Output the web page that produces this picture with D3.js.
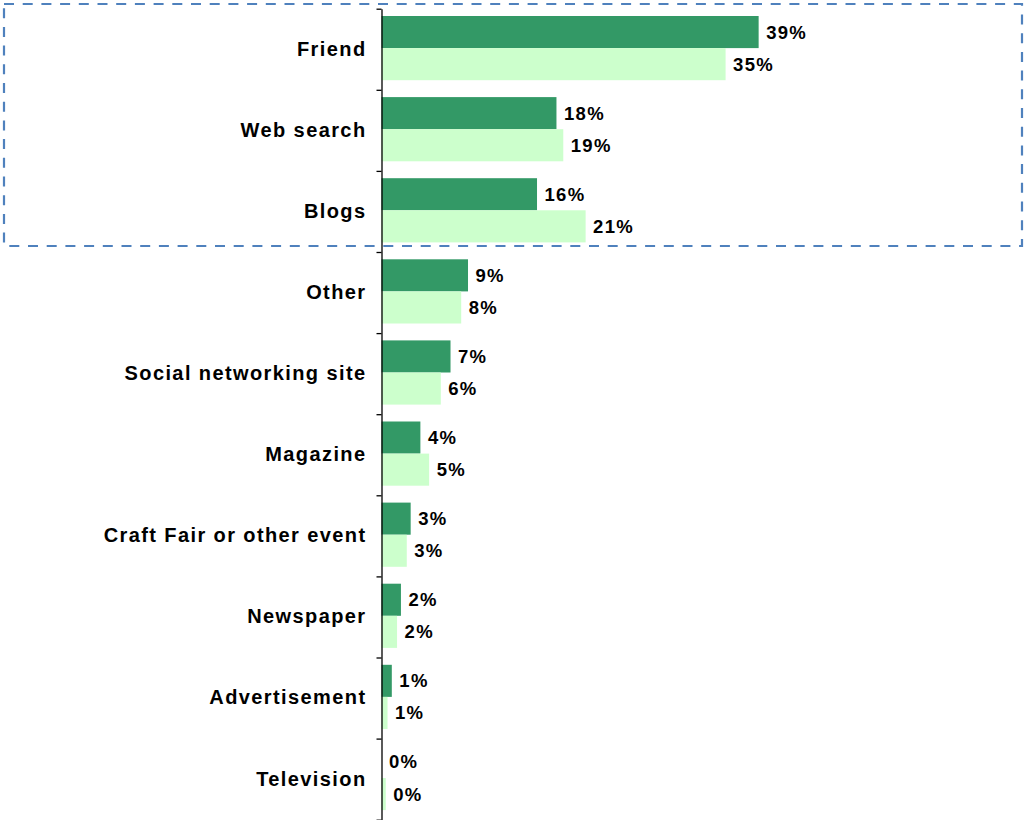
<!DOCTYPE html>
<html>
<head>
<meta charset="utf-8">
<script src="https://cdn.jsdelivr.net/npm/d3@7"></script>
<style>
  html, body { margin: 0; padding: 0; background: #fff; }
  svg { display: block; }
  text { font-family: "Liberation Sans", Arial, sans-serif; font-weight: bold; fill: #000; }
</style>
</head>
<body>
<svg id="chart" width="1024" height="820"></svg>
<script>
// Where people first heard about the shop — share of responses, two survey groups
const categories = [
  "Friend", "Web search", "Blogs", "Other", "Social networking site",
  "Magazine", "Craft Fair or other event", "Newspaper", "Advertisement", "Television"
];
const seriesNames = ["groupA", "groupB"];
const groupA = [0.388, 0.180, 0.160, 0.089, 0.071, 0.040, 0.030, 0.020, 0.0106, 0];
const groupB = [0.354, 0.187, 0.210, 0.082, 0.061, 0.049, 0.026, 0.016, 0.0062, 0.0044];
const colors = { groupA: "#339966", groupB: "#CCFFCC" };
// the first three categories are outlined together
const highlighted = ["Friend", "Web search", "Blogs"];

const rows = categories.map((c, i) => ({ category: c, groupA: groupA[i], groupB: groupB[i] }));

const svg = d3.select("#chart");
const axisX = 381.5;
const plotTop = 8.7, plotBottom = 819.7;

const x = d3.scaleLinear().domain([0, 0.45]).range([axisX, axisX + 0.45 * 972]);
const y = d3.scaleBand().domain(categories).range([plotTop, plotBottom]);
const y1 = d3.scaleBand().domain(seriesNames).range([7.3, 71.5]);

const fmt = d3.format(".0%");

// bars
const groups = svg.append("g").selectAll("g")
  .data(rows).join("g")
  .attr("transform", d => `translate(0,${y(d.category)})`);

groups.selectAll("rect")
  .data(d => seriesNames.map(s => ({ key: s, value: d[s] })))
  .join("rect")
  .attr("x", x(0))
  .attr("y", d => y1(d.key))
  .attr("width", d => x(d.value) - x(0))
  .attr("height", y1.bandwidth())
  .attr("fill", d => colors[d.key]);

// value labels
groups.selectAll("text.value")
  .data(d => seriesNames.map(s => ({ key: s, value: d[s] })))
  .join("text")
  .attr("class", "value")
  .attr("x", d => x(d.value) + 7.5)
  .attr("y", d => y1(d.key) + y1.bandwidth() / 2)
  .attr("dy", "0.35em")
  .style("font-size", "18.5px")
  .style("letter-spacing", "1.3px")
  .text(d => fmt(d.value));

// category axis: line with boundary ticks
const boundary = d3.scaleLinear().domain([0, categories.length]).range([plotTop, plotBottom]);
svg.append("g")
  .attr("transform", `translate(${axisX},0)`)
  .call(d3.axisLeft(boundary)
    .tickValues(d3.range(categories.length + 1))
    .tickFormat("")
    .tickSize(5)
    .tickSizeOuter(0))
  .call(g => g.selectAll("path, line").attr("stroke", "#000").attr("stroke-width", 1.3));

// category labels
svg.append("g")
  .attr("transform", `translate(${axisX},0)`)
  .call(d3.axisLeft(y).tickSize(0).tickPadding(15))
  .call(g => g.select(".domain").remove())
  .call(g => g.selectAll("text")
    .style("font-size", "20px")
    .style("font-family", "'Liberation Sans', Arial, sans-serif")
    .style("font-weight", "bold")
    .style("letter-spacing", "1.4px")
    .attr("fill", "#000"));

// dashed outline around the leading group
const hiTop = y(highlighted[0]) - 4.7;
const hiBottom = y(highlighted[highlighted.length - 1]) + y.bandwidth() - 6;
svg.append("rect")
  .attr("x", 4)
  .attr("y", hiTop)
  .attr("width", 1018)
  .attr("height", hiBottom - hiTop)
  .attr("fill", "none")
  .attr("stroke", "#4F81BD")
  .attr("stroke-width", 2.2)
  .attr("stroke-dasharray", "10 8.7");
</script>
</body>
</html>
